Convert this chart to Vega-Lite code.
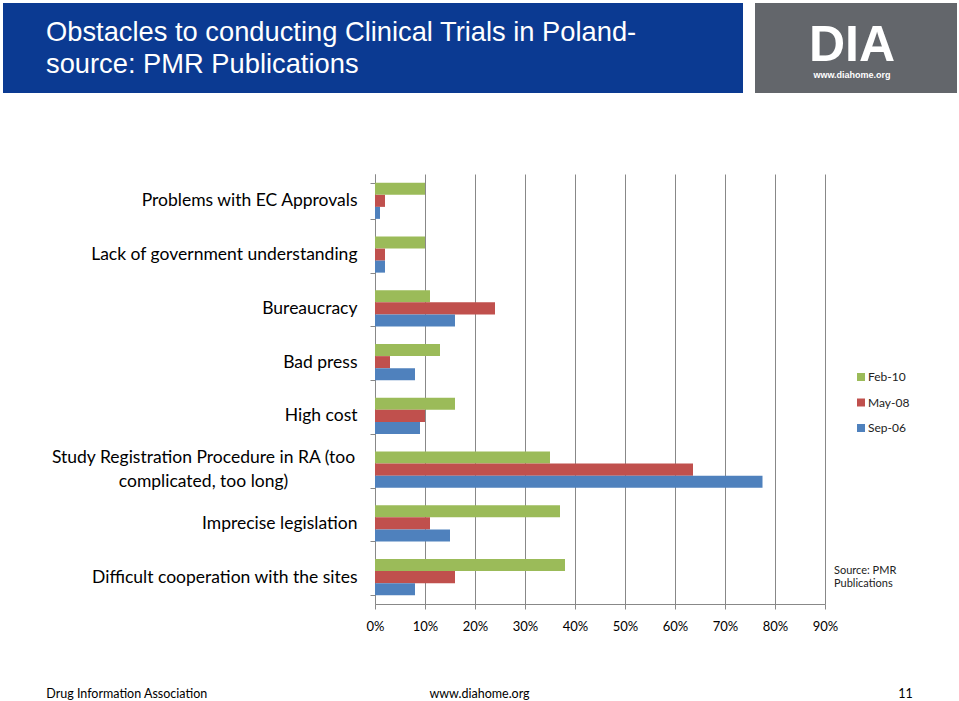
{
  "$schema": "https://vega.github.io/schema/vega-lite/v6.json",
  "background": "white",
  "padding": {"left": 3, "top": 3, "right": 0, "bottom": 0},
  "config": {"view": {"stroke": null}, "font": "Lato"},
  "spacing": 72,
  "vconcat": [
    {
      "spacing": 12,
      "hconcat": [
        {
          "width": 740,
          "height": 90,
          "view": {"fill": "#0b3a92", "stroke": null},
          "data": {"values": []},
          "mark": "point",
          "title": {
            "text": ["Obstacles to conducting Clinical Trials in Poland-", "source: PMR Publications"],
            "anchor": "start",
            "orient": "top",
            "frame": "group",
            "offset": -75,
            "dx": 43,
            "color": "white",
            "font": "Liberation Sans",
            "fontSize": 27.3,
            "fontWeight": "normal",
            "lineHeight": 32
          }
        },
        {
          "width": 202,
          "height": 90,
          "view": {"fill": "#63666b", "stroke": null},
          "data": {"values": []},
          "mark": "point",
          "title": {
            "text": "DIA",
            "subtitle": "www.diahome.org",
            "anchor": "middle",
            "orient": "top",
            "frame": "group",
            "offset": -77,
            "dx": -4,
            "color": "white",
            "subtitleColor": "white",
            "font": "Liberation Sans",
            "fontSize": 50,
            "fontWeight": "bold",
            "lineHeight": 44,
            "subtitleFont": "Liberation Sans",
            "subtitleFontSize": 9,
            "subtitleFontWeight": "bold",
            "subtitlePadding": 0
          }
        }
      ]
    },
    {
      "spacing": 51,
      "vconcat": [
        {
          "spacing": 0,
          "hconcat": [
            {"width": 47, "height": 1, "data": {"values": []}, "mark": "point"},
            {
              "width": 450,
              "height": 430,
              "layer": [
                {
                  "data": {"values": [
                    {"obstacle": "Problems with EC Approvals", "survey": "Feb-10", "share": 10},
                    {"obstacle": "Problems with EC Approvals", "survey": "May-08", "share": 2},
                    {"obstacle": "Problems with EC Approvals", "survey": "Sep-06", "share": 1},
                    {"obstacle": "Lack of government understanding", "survey": "Feb-10", "share": 10},
                    {"obstacle": "Lack of government understanding", "survey": "May-08", "share": 2},
                    {"obstacle": "Lack of government understanding", "survey": "Sep-06", "share": 2},
                    {"obstacle": "Bureaucracy", "survey": "Feb-10", "share": 11},
                    {"obstacle": "Bureaucracy", "survey": "May-08", "share": 24},
                    {"obstacle": "Bureaucracy", "survey": "Sep-06", "share": 16},
                    {"obstacle": "Bad press", "survey": "Feb-10", "share": 13},
                    {"obstacle": "Bad press", "survey": "May-08", "share": 3},
                    {"obstacle": "Bad press", "survey": "Sep-06", "share": 8},
                    {"obstacle": "High cost", "survey": "Feb-10", "share": 16},
                    {"obstacle": "High cost", "survey": "May-08", "share": 10},
                    {"obstacle": "High cost", "survey": "Sep-06", "share": 9},
                    {"obstacle": "Study Registration Procedure in RA (too complicated, too long)", "survey": "Feb-10", "share": 35},
                    {"obstacle": "Study Registration Procedure in RA (too complicated, too long)", "survey": "May-08", "share": 63.6},
                    {"obstacle": "Study Registration Procedure in RA (too complicated, too long)", "survey": "Sep-06", "share": 77.5},
                    {"obstacle": "Imprecise legislation", "survey": "Feb-10", "share": 37},
                    {"obstacle": "Imprecise legislation", "survey": "May-08", "share": 11},
                    {"obstacle": "Imprecise legislation", "survey": "Sep-06", "share": 15},
                    {"obstacle": "Difficult cooperation with the sites", "survey": "Feb-10", "share": 38},
                    {"obstacle": "Difficult cooperation with the sites", "survey": "May-08", "share": 16},
                    {"obstacle": "Difficult cooperation with the sites", "survey": "Sep-06", "share": 8}
                  ]},
                  "mark": {"type": "bar"},
                  "encoding": {
                    "y": {
                      "field": "obstacle",
                      "type": "nominal",
                      "scale": {
                        "domain": [
                          "Problems with EC Approvals",
                          "Lack of government understanding",
                          "Bureaucracy",
                          "Bad press",
                          "High cost",
                          "Study Registration Procedure in RA (too complicated, too long)",
                          "Imprecise legislation",
                          "Difficult cooperation with the sites"
                        ],
                        "paddingInner": 0.33,
                        "paddingOuter": 0.165
                      },
                      "axis": {
                        "title": null,
                        "grid": false,
                        "domainColor": "#888888",
                        "tickColor": "#888888",
                        "tickSize": 5,
                        "tickBand": "extent",
                        "labelFont": "Lato",
                        "labelFontSize": 17.5,
                        "labelColor": "#000000",
                        "labelLimit": 500,
                        "labelLineHeight": 24,
                        "labelPadding": {"condition": {"test": "datum.value === 'Study Registration Procedure in RA (too complicated, too long)'", "value": 167}, "value": 13},
                        "labelAlign": {"condition": {"test": "datum.value === 'Study Registration Procedure in RA (too complicated, too long)'", "value": "center"}, "value": "right"},
                        "labelOffset": {"condition": {"test": "datum.value === 'Study Registration Procedure in RA (too complicated, too long)'", "value": -12}, "value": 0},
                        "labelExpr": "datum.value === 'Study Registration Procedure in RA (too complicated, too long)' ? ['Study Registration Procedure in RA (too', 'complicated, too long)'] : datum.label"
                      }
                    },
                    "x": {
                      "field": "share",
                      "type": "quantitative",
                      "scale": {"domain": [0, 90], "nice": false},
                      "axis": {
                        "title": null,
                        "values": [0, 10, 20, 30, 40, 50, 60, 70, 80, 90],
                        "labelExpr": "datum.value + '%'",
                        "grid": true,
                        "gridColor": "#888888",
                        "domainColor": "#888888",
                        "tickColor": "#888888",
                        "tickSize": 5,
                        "labelFont": "Lato",
                        "labelFontSize": 13,
                        "labelPadding": 11,
                        "labelColor": "#000000",
                        "labelFlush": false
                      }
                    },
                    "yOffset": {"field": "survey", "type": "nominal", "scale": {"domain": ["Feb-10", "May-08", "Sep-06"]}},
                    "color": {
                      "field": "survey",
                      "type": "nominal",
                      "scale": {"domain": ["Feb-10", "May-08", "Sep-06"], "range": ["#9BBB59", "#C0504D", "#4F81BD"]},
                      "legend": {
                        "title": null,
                        "orient": "none",
                        "legendX": 852,
                        "legendY": 368,
                        "padding": 0,
                        "symbolType": "square",
                        "symbolSize": 64,
                        "symbolStrokeWidth": 0,
                        "labelFont": "Lato",
                        "labelFontSize": 12,
                        "labelColor": "#222222",
                        "labelOffset": 1,
                        "rowPadding": 13.5
                      }
                    }
                  }
                },
                {
                  "data": {"values": [{"note": "Source: PMR\nPublications"}]},
                  "mark": {"type": "text", "align": "left", "baseline": "middle", "fontSize": 11, "lineHeight": 13, "lineBreak": "\n", "color": "#222222", "font": "Lato", "dy": -6.5},
                  "encoding": {
                    "x": {"datum": 91.8, "type": "quantitative"},
                    "y": {"datum": "Difficult cooperation with the sites", "type": "nominal"},
                    "text": {"field": "note"}
                  }
                }
              ]
            }
          ]
        },
        {
          "width": 953,
          "height": 20,
          "data": {"values": [
            {"slot": "left", "label": "Drug Information Association"},
            {"slot": "center", "label": "www.diahome.org"},
            {"slot": "right", "label": "11"}
          ]},
          "encoding": {
            "x": {"field": "slot", "type": "nominal", "scale": {"type": "point", "domain": ["left", "center", "right"], "padding": 0.1}, "axis": null},
            "text": {"field": "label"}
          },
          "layer": [
            {"transform": [{"filter": "datum.slot === 'left'"}], "mark": {"type": "text", "align": "left", "fontSize": 12.5, "font": "Lato", "color": "#000000"}},
            {"transform": [{"filter": "datum.slot === 'center'"}], "mark": {"type": "text", "align": "center", "fontSize": 12.5, "font": "Lato", "color": "#000000"}},
            {"transform": [{"filter": "datum.slot === 'right'"}], "mark": {"type": "text", "align": "right", "fontSize": 12.5, "font": "Lato", "color": "#000000"}}
          ]
        }
      ]
    }
  ]
}
